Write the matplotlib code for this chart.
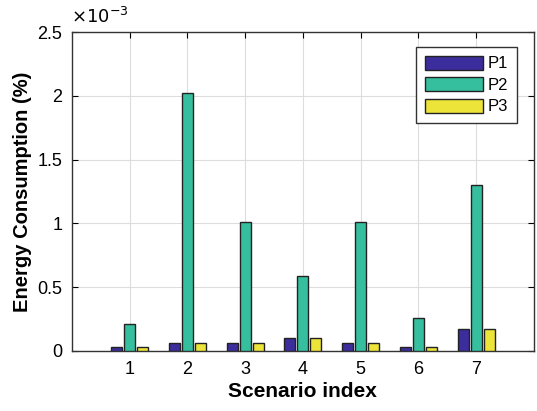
import matplotlib
matplotlib.use('Agg')
import matplotlib.pyplot as plt
import numpy as np
from matplotlib.ticker import FuncFormatter

plt.rcParams['font.family'] = ['Liberation Sans', 'DejaVu Sans']

scenarios = [1, 2, 3, 4, 5, 6, 7]
p1 = [0.03e-3, 0.06e-3, 0.06e-3, 0.10e-3, 0.06e-3, 0.03e-3, 0.17e-3]
p2 = [0.21e-3, 2.02e-3, 1.01e-3, 0.59e-3, 1.01e-3, 0.26e-3, 1.30e-3]
p3 = [0.03e-3, 0.06e-3, 0.06e-3, 0.10e-3, 0.06e-3, 0.03e-3, 0.17e-3]
series_names = ['P1', 'P2', 'P3']
colors = ['#3b2d9c', '#36bf9e', '#ede43a']

fig = plt.figure(figsize=(5.37, 4.11), dpi=100)
ax = fig.add_axes([0.134, 0.146, 0.860, 0.776])

x = np.array(scenarios, dtype=float)
w = 0.19
for off, vals, name, c in zip([-0.225, 0, 0.225], [p1, p2, p3], series_names, colors):
    ax.bar(x + off, vals, width=w, color=c, edgecolor='#222222', linewidth=1.0,
           label=name, zorder=3)

ax.set_xlim(0, 8)
ax.set_ylim(0, 2.5e-3)
ax.set_xticks(scenarios)
ax.set_yticks(np.arange(0, 2.51e-3, 0.5e-3))
ax.yaxis.set_major_formatter(FuncFormatter(lambda v, p: f'{v * 1e3:g}'))
ax.tick_params(direction='in', top=True, right=True, labelsize=13, length=4, pad=7)
ax.grid(True, color='#dddddd', linewidth=0.8, zorder=0)
ax.set_axisbelow(True)
for s in ax.spines.values():
    s.set_color('#333333')
    s.set_linewidth(1.0)

ax.set_xlabel('Scenario index', fontsize=15, fontweight='bold', labelpad=3)
ax.set_ylabel('Energy Consumption (%)', fontsize=14.5, fontweight='bold', labelpad=4)
fig.text(0.132, 0.935, r'$\times10^{-3}$', fontsize=13, ha='left', va='bottom')

leg = ax.legend(loc='upper right', bbox_to_anchor=(0.981, 0.978), fontsize=12,
                handlelength=3.5, handleheight=0.9, handletextpad=0.3,
                labelspacing=0.35, borderpad=0.5, fancybox=False, framealpha=1)
leg.get_frame().set_edgecolor('#333333')
leg.get_frame().set_linewidth(1.0)

fig.savefig('out.png', dpi=100)
